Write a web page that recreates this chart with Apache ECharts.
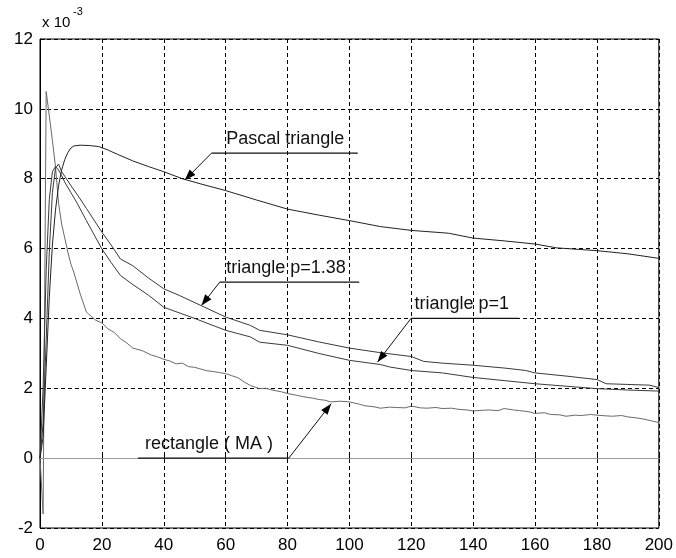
<!DOCTYPE html>
<html><head><meta charset="utf-8">
<script src="https://cdn.jsdelivr.net/npm/echarts@6/dist/echarts.min.js"></script>
<style>html,body{margin:0;padding:0;background:#fff}#c{width:676px;height:558px}</style>
</head><body><div id="c"></div>
<script>
// ---- data (values in units of 1e-3) ----
const xMin = 0, xMax = 200, xStep = 20;
const yMin = -2, yMax = 12, yStep = 2;

const pascalX = [0,1,2,3,4,5,6,7,8,9,10,11,13,16,19,22,25,30,35,40,46,52,60,70,80,90,100,110,120,132,140,150,160,167,180,190,200];
const pascalY = [0,0.6,2.6,4.6,6.1,7.1,7.8,8.25,8.55,8.75,8.88,8.94,8.96,8.95,8.92,8.82,8.7,8.51,8.35,8.2,8.0,7.85,7.66,7.39,7.13,6.96,6.8,6.63,6.52,6.44,6.3,6.22,6.13,6.02,5.94,5.85,5.72];

const tri138X = [0,1,2,3,4,5,6,7,8,10,12,15,20,23,26,30,35,40,45,52,60,68,71,80,90,100,110,120,124,130,140,150,157,160,170,180,183,190,197,200];
const tri138Y = [0,1.0,3.4,5.9,7.6,8.3,8.42,8.2,8.07,7.8,7.55,7.15,6.47,6.1,5.7,5.51,5.16,4.85,4.66,4.37,4.04,3.8,3.66,3.53,3.33,3.15,3.02,2.91,2.77,2.72,2.66,2.58,2.51,2.44,2.35,2.25,2.13,2.11,2.09,2.02];

const tri1X = [0,1,2,3,4,5,6,7,8,10,12,15,20,23,26,30,35,40,50,60,68,71,80,90,100,110,113,120,130,140,150,160,170,180,190,200];
const tri1Y = [0,2.0,5.4,7.4,8.2,8.35,8.25,8.09,7.9,7.6,7.3,6.8,5.99,5.6,5.23,4.97,4.67,4.32,4.0,3.66,3.47,3.32,3.23,3.0,2.8,2.68,2.61,2.51,2.44,2.31,2.22,2.13,2.06,1.99,1.95,1.92];

const rectX = [0,1,2,3,4,5,6,7,8,9,10,11,13,15,18,20,22,24,26,28,30,33,36,38,40,42,44,46,48,50,52,54,56,58,60,62,64,66,68,71,73,75,78,80,83,85,88,90,92,94,97,100,103,105,108,110,113,115,118,120,123,125,128,130,133,135,138,140,143,145,148,150,153,155,158,160,163,165,168,170,173,175,178,180,183,185,188,190,193,195,198,200];
const rectY = [0,-1.6,10.5,9.8,9.1,8.35,7.3,6.7,6.3,5.9,5.55,5.3,4.7,4.18,3.95,3.87,3.7,3.6,3.42,3.3,3.15,3.08,2.95,2.9,2.83,2.78,2.7,2.72,2.62,2.6,2.55,2.5,2.48,2.45,2.42,2.36,2.3,2.18,2.08,1.99,2.0,1.95,1.9,1.85,1.8,1.76,1.72,1.68,1.66,1.61,1.63,1.61,1.55,1.5,1.47,1.43,1.46,1.45,1.44,1.49,1.44,1.43,1.45,1.42,1.43,1.4,1.38,1.35,1.37,1.38,1.36,1.42,1.38,1.36,1.33,1.28,1.3,1.25,1.24,1.2,1.23,1.22,1.25,1.23,1.21,1.2,1.22,1.18,1.15,1.12,1.06,1.02];

// annotations (data units)
const annText  = ['Pascal triangle','triangle p=1.38','triangle p=1','rectangle ( MA )'];
const annTextX = [60.2, 60.2, 121, 33.9];
const annLineY = [8.73, 5.04, 4.0, 0];
const annLineX0 = [55.4, 58.1, 119.9, 31.7];
const annLineX1 = [102.7, 103.2, 154.8, 80.4];
const annArrowX0 = [55.4, 58.1, 119.9, 80.4];
const annTipX = [46.8, 52.2, 109.1, 94.1];
const annTipY = [7.96, 4.37, 2.75, 1.56];

const FONT = "'Liberation Sans', Arial, sans-serif";
const zip = (xs, ys) => xs.map((x, i) => [x, ys[i]]);

const chart = echarts.init(document.getElementById('c'), null, {renderer: 'canvas'});
chart.setOption({
  animation: false,
  backgroundColor: '#fff',
  grid: {left: 40, right: 16, top: 39, bottom: 30, show: true, borderColor: '#000', borderWidth: 1, backgroundColor: '#fff'},
  xAxis: {
    type: 'value', min: xMin, max: xMax, interval: xStep,
    axisLine: {show: true, lineStyle: {color: '#000', width: 1}},
    axisTick: {show: true, inside: true, length: 5, lineStyle: {color: '#000'}},
    axisLabel: {color: '#000', fontSize: 17, fontFamily: FONT, margin: 9},
    splitLine: {show: true, lineStyle: {color: '#000', type: [4, 3], width: 1}}
  },
  yAxis: {
    type: 'value', min: yMin, max: yMax, interval: yStep,
    axisLine: {show: true, lineStyle: {color: '#000', width: 1}},
    axisTick: {show: true, inside: true, length: 5, lineStyle: {color: '#000'}},
    axisLabel: {color: '#000', fontSize: 17, fontFamily: FONT, margin: 7},
    splitLine: {show: true, lineStyle: {color: '#000', type: [4, 3], width: 1}}
  },
  series: [
    {type: 'line', name: 'rectangle (MA)', data: zip(rectX, rectY), showSymbol: false, symbol: 'none',
     lineStyle: {color: '#6a6a6a', width: 1}, z: 3,
     markLine: {silent: true, symbol: 'none', label: {show: false},
       lineStyle: {color: '#9a9a9a', width: 1, type: 'solid'}, data: [{yAxis: 0}]}},
    {type: 'line', name: 'triangle p=1', data: zip(tri1X, tri1Y), showSymbol: false, symbol: 'none',
     lineStyle: {color: '#3a3a3a', width: 1}, z: 4},
    {type: 'line', name: 'triangle p=1.38', data: zip(tri138X, tri138Y), showSymbol: false, symbol: 'none',
     lineStyle: {color: '#3a3a3a', width: 1}, z: 4},
    {type: 'line', name: 'Pascal triangle', data: zip(pascalX, pascalY), showSymbol: false, symbol: 'none',
     lineStyle: {color: '#222', width: 1}, z: 5}
  ]
});

// build annotations from data coordinates
const g = [];
g.push({type: 'text', left: 42, top: 15, style: {text: 'x 10', fontSize: 15, fontFamily: FONT, fill: '#000'}});
g.push({type: 'text', left: 73, top: 6, style: {text: '-3', fontSize: 11, fontFamily: FONT, fill: '#000'}});
for (let i = 0; i < annText.length; i++) {
  const p0 = chart.convertToPixel({gridIndex: 0}, [annLineX0[i], annLineY[i]]);
  const p1 = chart.convertToPixel({gridIndex: 0}, [annLineX1[i], annLineY[i]]);
  const a0 = chart.convertToPixel({gridIndex: 0}, [annArrowX0[i], annLineY[i]]);
  const tp = chart.convertToPixel({gridIndex: 0}, [annTipX[i], annTipY[i]]);
  const tx = chart.convertToPixel({gridIndex: 0}, [annTextX[i], annLineY[i]]);
  g.push({type: 'line', shape: {x1: p0[0], y1: p0[1], x2: p1[0], y2: p1[1]}, style: {stroke: '#111', lineWidth: 1.3}, z: 10});
  g.push({type: 'line', shape: {x1: a0[0], y1: a0[1], x2: tp[0], y2: tp[1]}, style: {stroke: '#111', lineWidth: 1}, z: 10});
  const dx = tp[0] - a0[0], dy = tp[1] - a0[1], L = Math.hypot(dx, dy);
  const ux = dx / L, uy = dy / L, len = 11, hw = 4;
  const bx = tp[0] - ux * len, by = tp[1] - uy * len;
  g.push({type: 'polygon', shape: {points: [[tp[0], tp[1]], [bx - uy * hw, by + ux * hw], [bx + uy * hw, by - ux * hw]]}, style: {fill: '#000'}, z: 10});
  g.push({type: 'text', x: tx[0], y: tx[1] - 5, style: {text: annText[i], fontSize: 18, fontFamily: FONT, fill: '#111', textVerticalAlign: 'bottom', verticalAlign: 'bottom'}, z: 11});
}
chart.setOption({graphic: g});
</script>
</body></html>
